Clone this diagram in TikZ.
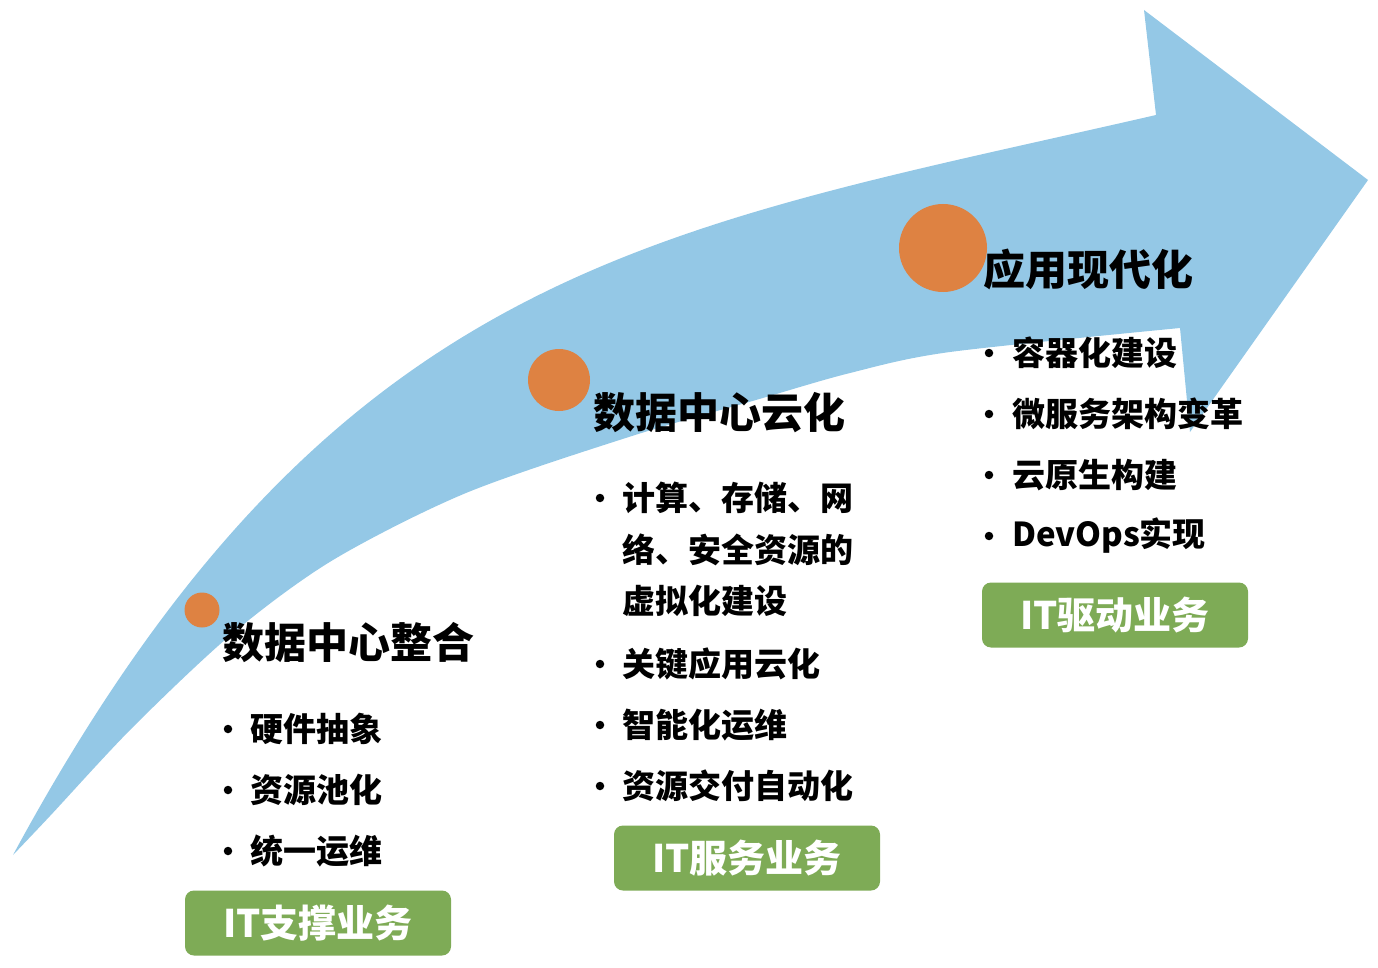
\documentclass[tikz,border=0pt]{standalone}
\usepackage{fontspec}
\setmainfont{Noto Sans CJK SC}
\definecolor{arrowblue}{RGB}{148,200,230}
\definecolor{stageorange}{RGB}{222,130,66}
\definecolor{boxgreen}{RGB}{126,171,86}
\begin{document}
\begin{tikzpicture}[x=1pt,y=-1pt,
  title/.style={anchor=west, inner sep=0pt, font=\fontsize{42}{48}\selectfont\bfseries},
  item/.style={anchor=west, inner sep=0pt, font=\fontsize{33}{51.5}\selectfont\bfseries, align=left},
  dot/.style={circle, fill=black, inner sep=0pt, minimum size=8.5pt},
  badge/.style={fill=boxgreen, rounded corners=9pt, minimum width=266pt, minimum height=65pt, text=white, font=\fontsize{38}{44}\selectfont\bfseries, inner sep=0pt},
  stage/.style={circle, fill=stageorange, inner sep=0pt}
]
\useasboundingbox (0,0) rectangle (1378,968);

% big curved arrow
\fill[arrowblue] (13,855) .. controls (333,263) and (656,230) .. (1156,115)
  -- (1144,10) -- (1368,180) -- (1190,432) -- (1180,328)
  -- plot[smooth] coordinates {(1180,328) (950,352) (850,373) (756,400) (632,436) (466,493) (333,560) (233,633) (133,727) (50,816) (13,855)}
  -- cycle;

% stage circles
\node[stage, minimum size=35pt] (c1) at (202,610) {};
\node[stage, minimum size=62pt] (c2) at (559,380) {};
\node[stage, minimum size=88pt] (c3) at (943,248) {};

% titles
\node[title] (t1) at (222,643) {数据中心整合};
\node[title] (t2) at (593,413) {数据中心云化};
\node[title] (t3) at (983,269) {应用现代化};

% column 1
\node[dot] (d11) at (228,729) {};
\node[item] (i11) at (250,729) {硬件抽象};
\node[dot] (d12) at (228,790) {};
\node[item] (i12) at (250,790) {资源池化};
\node[dot] (d13) at (228,851) {};
\node[item] (i13) at (250,851) {统一运维};

% column 2
\node[dot] (d21) at (600,498) {};
\node[item] (i21) at (622,549.5) {计算、存储、网\\络、安全资源的\\虚拟化建设};
\node[dot] (d22) at (600,664) {};
\node[item] (i22) at (622,664) {关键应用云化};
\node[dot] (d23) at (600,725) {};
\node[item] (i23) at (622,725) {智能化运维};
\node[dot] (d24) at (600,786) {};
\node[item] (i24) at (622,786) {资源交付自动化};

% column 3
\node[dot] (d31) at (989,353) {};
\node[item] (i31) at (1012,353) {容器化建设};
\node[dot] (d32) at (989,414) {};
\node[item] (i32) at (1012,414) {微服务架构变革};
\node[dot] (d33) at (989,475) {};
\node[item] (i33) at (1012,475) {云原生构建};
\node[dot] (d34) at (989,536) {};
\node[item] (i34) at (1012,536) {DevOps实现};

% badges
\node[badge] (b1) at (318,923) {IT支撑业务};
\node[badge] (b2) at (747,858) {IT服务业务};
\node[badge] (b3) at (1115,615) {IT驱动业务};
\end{tikzpicture}
\end{document}
